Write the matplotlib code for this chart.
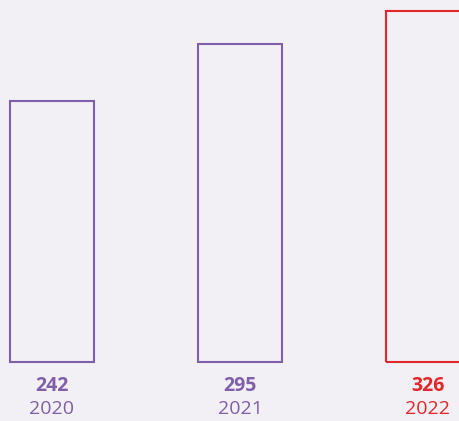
import matplotlib
matplotlib.use("Agg")
import matplotlib.pyplot as plt

years = ["2020", "2021", "2022"]
values = [242, 295, 326]
colors = ["#7f5fa8", "#7f5fa8", "#e3262a"]

bg = "#f2eff5"

fig = plt.figure(figsize=(4.59, 4.21), dpi=100)
fig.patch.set_facecolor(bg)
ax = fig.add_axes([0, 0, 1, 1])
ax.set_facecolor(bg)

x = range(len(values))
ax.bar(x, values, width=0.447, facecolor="none", edgecolor=colors, linewidth=1.5)

# labels under each bar: value (bold) then year
for i, (v, yr, c) in enumerate(zip(values, years, colors)):
    ax.text(i, -22.5, str(v), ha="center", va="center", color=c,
            fontsize=14, fontweight="bold", family="Open Sans")
    ax.text(i, -43.5, yr, ha="center", va="center", color=c,
            fontsize=14, family="Open Sans")

ax.set_xlim(-0.2766, 2.165)
ax.set_ylim(-54.7, 335.8)
ax.axis("off")

fig.savefig("out.png", dpi=100, facecolor=bg)
